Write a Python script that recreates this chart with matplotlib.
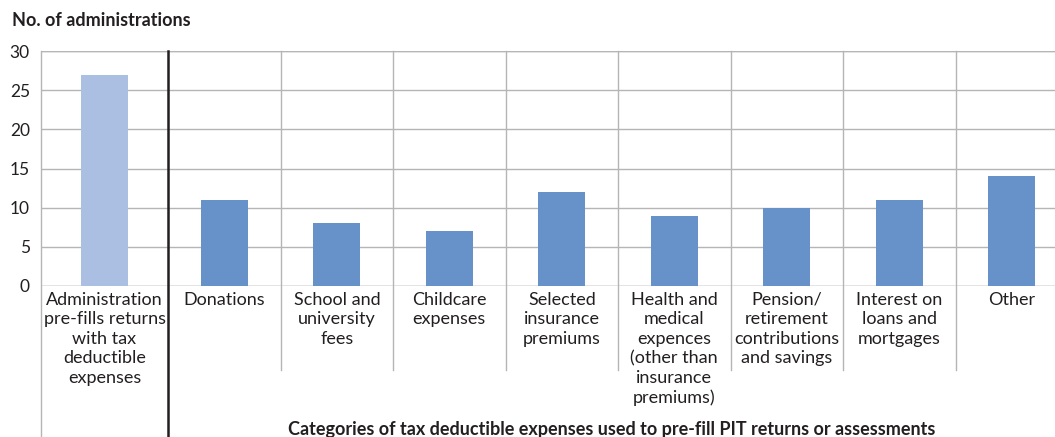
import numpy as np
import matplotlib.pyplot as plt

plt.rcParams['font.family'] = ['Lato', 'DejaVu Sans']

# Data
categories = [
    'Administration\npre-fills returns\nwith tax\ndeductible\nexpenses',
    'Donations',
    'School and\nuniversity\nfees',
    'Childcare\nexpenses',
    'Selected\ninsurance\npremiums',
    'Health and\nmedical\nexpences\n(other than\ninsurance\npremiums)',
    'Pension/\nretirement\ncontributions\nand savings',
    'Interest on\nloans and\nmortgages',
    'Other',
]
values = [27, 11, 8, 7, 12, 9, 10, 11, 14]
y_ticks = [0, 5, 10, 15, 20, 25, 30]

# category widths: the first group is a bit wider than the others
widths = np.array([1.13] + [1.0] * (len(categories) - 1))
edges = np.concatenate([[0], np.cumsum(widths)])
centers = (edges[:-1] + edges[1:]) / 2
colors = ['#aabfe1'] + ['#6692c9'] * (len(categories) - 1)

W, H = 1055, 437
fig = plt.figure(figsize=(W / 100, H / 100), dpi=100)
left_px, right_px, top_px, bottom_px = 41, 1068, 51, 286
ax = fig.add_axes([left_px / W, 1 - bottom_px / H,
                   (right_px - left_px) / W, (bottom_px - top_px) / H])

grid_c = '#b5b5b5'
text_c = '#231f20'
ax.bar(centers, values, width=0.42, color=colors, zorder=3)
ax.set_xlim(edges[0], edges[-1])
ax.set_ylim(0, 30)
ax.set_yticks(y_ticks)
ax.yaxis.grid(True, color=grid_c, linewidth=1.0, zorder=0)
ax.set_axisbelow(True)
for s in ax.spines.values():
    s.set_visible(False)

ax.set_xticks(centers)
ax.set_xticklabels(categories, fontsize=13, linespacing=1.27, color=text_c)
ax.tick_params(axis='x', length=0, pad=4)
ax.tick_params(axis='y', length=0, pad=8, labelsize=12.5, labelcolor=text_c)

# top line at 30 and baseline
ax.axhline(30, color=grid_c, linewidth=1.0, zorder=1)
ax.axhline(0, color=grid_c, linewidth=1.0, zorder=1)

# vertical separators, extending below the axis into the label area
px_per_unit = (bottom_px - top_px) / 30
short_low = -(370 - bottom_px) / px_per_unit
long_low = -(437 - bottom_px) / px_per_unit
for i, x in enumerate(edges[:-1]):
    if i == 0:
        ax.plot([x, x], [30, long_low], color=grid_c, linewidth=1.0,
                clip_on=False, zorder=2)
    elif i == 1:
        ax.plot([x, x], [30, long_low], color=text_c, linewidth=1.8,
                clip_on=False, zorder=4)
    else:
        ax.plot([x, x], [30, short_low], color=grid_c, linewidth=1.0,
                clip_on=False, zorder=2)

fig.text(12 / W, 1 - 20 / H, 'No. of administrations', fontsize=13,
         fontweight='bold', color=text_c, va='center', ha='left')
fig.text(612 / W, 1 - 430 / H,
         'Categories of tax deductible expenses used to pre-fill PIT returns or assessments',
         fontsize=13, fontweight='bold', color=text_c, va='center', ha='center')

fig.savefig('out.png', dpi=100)
